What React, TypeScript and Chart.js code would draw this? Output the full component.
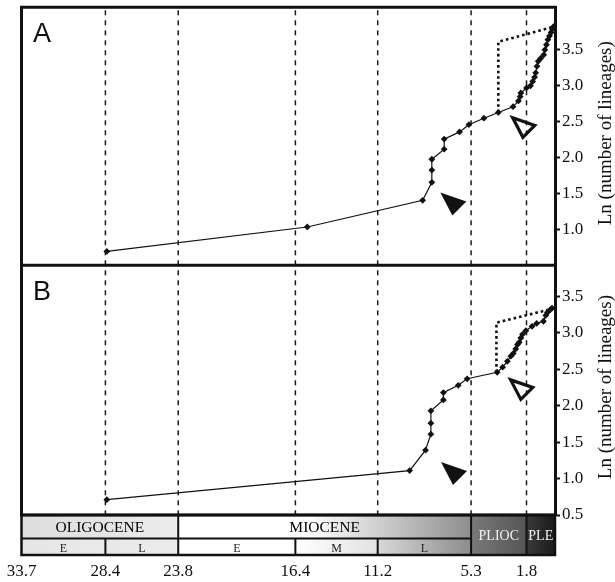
import React, { useEffect, useRef } from 'react';
import { Chart, registerables } from 'chart.js';

Chart.register(...registerables);

// ---- data (ages in Ma, values = Ln(number of lineages)) ----
const tickAges = [33.7, 28.4, 23.8, 16.4, 11.2, 5.3, 1.8];
const boundaryAges = [28.4, 23.8, 16.4, 11.2, 5.3, 1.8];
const lnTicksA = [1.0, 1.5, 2.0, 2.5, 3.0, 3.5];
const lnTicksB = [0.5, 1.0, 1.5, 2.0, 2.5, 3.0, 3.5];

const agesA = [28.31, 15.65, 8.36, 7.78, 7.78, 7.78, 7.0, 7.0, 6.03, 5.44, 4.49, 3.58, 2.65, 2.31, 2.2, 2.16, 1.8, 1.55, 1.41, 1.29, 1.22, 1.14, 1.06, 0.91, 0.71, 0.64, 0.54, 0.45, 0.35, 0.25, 0.16, 0.1];
const lnA = [0.69, 1.03, 1.4, 1.65, 1.82, 1.97, 2.11, 2.25, 2.35, 2.45, 2.54, 2.62, 2.7, 2.78, 2.84, 2.89, 2.96, 2.99, 3.05, 3.11, 3.17, 3.26, 3.33, 3.37, 3.42, 3.49, 3.56, 3.63, 3.68, 3.73, 3.78, 3.81];

const agesB = [28.31, 9.18, 8.18, 7.84, 7.84, 7.84, 7.05, 7.05, 6.11, 5.55, 3.65, 3.31, 3.01, 2.79, 2.63, 2.48, 2.37, 2.26, 2.16, 2.05, 1.84, 1.45, 1.16, 0.73, 0.58, 0.48, 0.29, 0.19];
const lnB = [0.71, 1.11, 1.39, 1.61, 1.76, 1.93, 2.08, 2.18, 2.28, 2.37, 2.46, 2.53, 2.61, 2.68, 2.72, 2.78, 2.84, 2.87, 2.93, 2.98, 3.03, 3.09, 3.13, 3.16, 3.24, 3.28, 3.32, 3.34];

const dottedAgesA = [3.58, 3.58, 0.1];
const dottedLnA = [2.62, 3.6, 3.81];
const dottedAgesB = [3.7, 3.7, 0.19];
const dottedLnB = [2.46, 3.14, 3.33];

const markerAges = [6.44, 1.99, 6.4, 2.12];
const markerLns = [1.36, 2.42, 1.08, 2.23];
const markerAxes = ['yA', 'yA', 'yB', 'yB'];
const markerFilled = [true, false, true, false];

const panelNames = ['A', 'B'];
const axisTitle = 'Ln (number of lineages)';

const epochNames = ['OLIGOCENE', 'MIOCENE', 'PLIOC', 'PLE'];
const epochFrom = [33.7, 23.8, 5.3, 1.8];
const epochTo = [23.8, 5.3, 1.8, 0];
const subNames = ['E', 'L', 'E', 'M', 'L'];
const subFrom = [33.7, 28.4, 23.8, 16.4, 11.2];
const subTo = [28.4, 23.8, 16.4, 11.2, 5.3];

// ---- styles ----
const SERIF = '"Liberation Serif", "Times New Roman", serif';
const SANS = '"Liberation Sans", Arial, sans-serif';
const epochFill: [number, string][][] = [
  [[0, '#dddddd'], [1, '#ececec']],
  [[0, '#ffffff'], [0.45, '#ffffff'], [1, '#8e8e8e']],
  [[0, '#7a7a7a'], [1, '#555555']],
  [[0, '#3a3a3a'], [1, '#1a1a1a']],
];
const epochFull = [false, false, true, true];
const epochText = ['#000', '#000', '#f2f2f2', '#f2f2f2'];
const subFill: [number, string][][] = [
  [[0, '#e6e6e6'], [1, '#eaeaea']],
  [[0, '#e8e8e8'], [1, '#ececec']],
  [[0, '#ffffff'], [1, '#ffffff']],
  [[0, '#ffffff'], [1, '#e2e2e2']],
  [[0, '#d8d8d8'], [1, '#8c8c8c']],
];
const triShape = [[-12.7, -10.7], [13.3, -1.7], [-0.7, 12.3]];

const decor = {
  id: 'decor',
  beforeDatasetsDraw(chart: any) {
    const { ctx, chartArea } = chart;
    const x = chart.scales.x;
    ctx.save();
    ctx.strokeStyle = '#1a1a1a';
    ctx.lineWidth = 1.5;
    ctx.setLineDash([5, 5]);
    boundaryAges.forEach((a) => {
      const px = x.getPixelForValue(a);
      ctx.beginPath();
      ctx.moveTo(px, chartArea.top + 3);
      ctx.lineTo(px, chartArea.bottom);
      ctx.stroke();
    });
    ctx.restore();
  },
  afterDatasetsDraw(chart: any) {
    const { ctx, chartArea } = chart;
    const x = chart.scales.x;
    const yA = chart.scales.yA;
    const yB = chart.scales.yB;
    const px = (a: number) => x.getPixelForValue(a);
    ctx.save();

    // annotation triangles
    markerAges.forEach((a, i) => {
      const sc = chart.scales[markerAxes[i]];
      const cx = px(a);
      const cy = sc.getPixelForValue(markerLns[i]);
      const k = markerFilled[i] ? 1 : 0.85;
      ctx.beginPath();
      triShape.forEach(([dx, dy], j) => {
        if (j === 0) ctx.moveTo(cx + dx * k, cy + dy * k);
        else ctx.lineTo(cx + dx * k, cy + dy * k);
      });
      ctx.closePath();
      if (markerFilled[i]) {
        ctx.fillStyle = '#111';
        ctx.fill();
      } else {
        ctx.lineWidth = 3.2;
        ctx.lineJoin = 'miter';
        ctx.strokeStyle = '#111';
        ctx.stroke();
      }
    });

    // frame
    ctx.strokeStyle = '#111';
    ctx.lineWidth = 3;
    ctx.beginPath();
    ctx.moveTo(chartArea.left, chartArea.bottom);
    ctx.lineTo(chartArea.left, chartArea.top);
    ctx.lineTo(chartArea.right + 1.5, chartArea.top);
    ctx.moveTo(chartArea.left, yA.bottom);
    ctx.lineTo(chartArea.right, yA.bottom);
    ctx.stroke();

    // time scale bar
    const top = chartArea.bottom;
    const mid = top + 23.5;
    const bot = top + 40;
    const grad = (x0: number, x1: number, stops: [number, string][]) => {
      const g = ctx.createLinearGradient(x0, 0, x1, 0);
      stops.forEach(([o, c]) => g.addColorStop(o, c));
      return g;
    };
    epochNames.forEach((n, i) => {
      const x0 = px(epochFrom[i]);
      const x1 = px(epochTo[i]);
      ctx.fillStyle = grad(x0, x1, epochFill[i]);
      ctx.fillRect(x0, top, x1 - x0, (epochFull[i] ? bot : mid) - top);
    });
    subNames.forEach((n, i) => {
      const x0 = px(subFrom[i]);
      const x1 = px(subTo[i]);
      ctx.fillStyle = grad(x0, x1, subFill[i]);
      ctx.fillRect(x0, mid, x1 - x0, bot - mid);
    });
    ctx.strokeStyle = '#111';
    ctx.lineWidth = 2;
    ctx.beginPath();
    ctx.moveTo(chartArea.left, mid);
    ctx.lineTo(px(5.3), mid);
    [23.8, 5.3, 1.8].forEach((a) => {
      ctx.moveTo(px(a), top);
      ctx.lineTo(px(a), bot);
    });
    [28.4, 16.4, 11.2].forEach((a) => {
      ctx.moveTo(px(a), mid);
      ctx.lineTo(px(a), bot);
    });
    ctx.stroke();
    ctx.lineWidth = 2.5;
    ctx.strokeRect(chartArea.left, top, chartArea.right - chartArea.left, bot - top);
    ctx.lineWidth = 3;
    ctx.beginPath();
    ctx.moveTo(chartArea.left - 1.5, top);
    ctx.lineTo(chartArea.right + 1.5, top);
    ctx.stroke();

    ctx.textAlign = 'center';
    ctx.textBaseline = 'middle';
    epochNames.forEach((n, i) => {
      const cx = (px(epochFrom[i]) + px(epochTo[i])) / 2;
      ctx.fillStyle = epochText[i];
      ctx.font = `${epochFull[i] ? 14 : 15.5}px ${SERIF}`;
      ctx.fillText(n, cx, epochFull[i] ? (top + bot) / 2 + 1 : (top + mid) / 2 + 1);
    });
    ctx.fillStyle = '#222';
    ctx.font = `12px ${SERIF}`;
    subNames.forEach((n, i) => {
      const cx = (px(subFrom[i]) + px(subTo[i])) / 2;
      ctx.fillText(n, cx, (mid + bot) / 2 + 2);
    });

    // panel letters
    ctx.fillStyle = '#111';
    ctx.textAlign = 'left';
    ctx.textBaseline = 'alphabetic';
    ctx.font = `27px ${SANS}`;
    [yA, yB].forEach((s, i) => {
      ctx.fillText(panelNames[i], chartArea.left + 11.5, s.top + 34.5);
    });

    // axis titles (reading upward)
    ctx.font = `19px ${SERIF}`;
    ctx.textAlign = 'center';
    ctx.textBaseline = 'middle';
    [yA, yB].forEach((s) => {
      ctx.save();
      ctx.translate(606, (s.top + s.bottom) / 2 - 3);
      ctx.rotate(-Math.PI / 2);
      ctx.fillText(axisTitle, 0, 0);
      ctx.restore();
    });
    ctx.restore();
  },
};

const lineStyle = {
  borderColor: '#111',
  borderWidth: 1.2,
  pointStyle: 'rectRot',
  pointRadius: 3.4,
  pointBackgroundColor: '#111',
  pointBorderColor: '#111',
  pointBorderWidth: 0,
  tension: 0,
};
const dotStyle = {
  borderColor: '#111',
  borderWidth: 2.6,
  borderDash: [2.6, 3],
  pointRadius: 0,
  tension: 0,
};

const yAxis = (min: number, max: number, ticks: number[], weight: number) => ({
  type: 'linear',
  position: 'right',
  stack: 'ln',
  stackWeight: weight,
  min,
  max,
  afterBuildTicks: (s: any) => {
    s.ticks = ticks.map((v) => ({ value: v }));
  },
  afterFit: (s: any) => {
    s.width = 60;
    s.paddingTop = 0;
    s.paddingBottom = 0;
  },
  grid: { drawOnChartArea: false, drawTicks: true, tickLength: 5, tickWidth: 2, tickColor: '#111' },
  border: { display: true, width: 3, color: '#111' },
  ticks: {
    padding: 2,
    color: '#111',
    font: { family: SERIF, size: 17 },
    callback: (v: any) => Number(v).toFixed(1),
  },
});

export default function App() {
  const ref = useRef<HTMLCanvasElement>(null);
  useEffect(() => {
    const canvas = ref.current;
    if (!canvas) return;
    const chart = new Chart(canvas, {
      type: 'line',
      data: {
        datasets: [
          { ...dotStyle, data: dottedAgesA.map((a, i) => ({ x: a, y: dottedLnA[i] })), yAxisID: 'yA' },
          { ...lineStyle, data: agesA.map((a, i) => ({ x: a, y: lnA[i] })), yAxisID: 'yA' },
          { ...dotStyle, data: dottedAgesB.map((a, i) => ({ x: a, y: dottedLnB[i] })), yAxisID: 'yB' },
          { ...lineStyle, data: agesB.map((a, i) => ({ x: a, y: lnB[i] })), yAxisID: 'yB' },
        ] as any,
      },
      options: {
        responsive: false,
        animation: false,
        devicePixelRatio: 1,
        layout: { padding: { left: 21.5, top: 7.3, right: 0, bottom: 0 } },
        plugins: { legend: { display: false }, tooltip: { enabled: false } },
        scales: {
          x: {
            type: 'linear',
            reverse: true,
            min: 0,
            max: 33.7,
            afterBuildTicks: (s: any) => {
              s.ticks = tickAges.map((v) => ({ value: v }));
            },
            afterFit: (s: any) => {
              s.height = 67;
              s.paddingLeft = 0;
              s.paddingRight = 0;
            },
            grid: { display: false, drawTicks: false },
            border: { display: false },
            ticks: {
              padding: 46,
              autoSkip: false,
              maxRotation: 0,
              color: '#111',
              font: { family: SERIF, size: 17 },
              callback: (v: any) => Number(v).toFixed(1),
            },
          },
          yA: yAxis(0.5, 4.08, lnTicksA, 258),
          yB: yAxis(0.5, 3.93, lnTicksB, 250),
        } as any,
      },
      plugins: [decor],
    } as any);
    return () => chart.destroy();
  }, []);
  return (
    <div style={{ position: 'absolute', left: 0, top: 0, width: 615, height: 582, background: '#fff' }}>
      <canvas ref={ref} width={615} height={582} style={{ display: 'block', width: 615, height: 582 }} />
    </div>
  );
}
